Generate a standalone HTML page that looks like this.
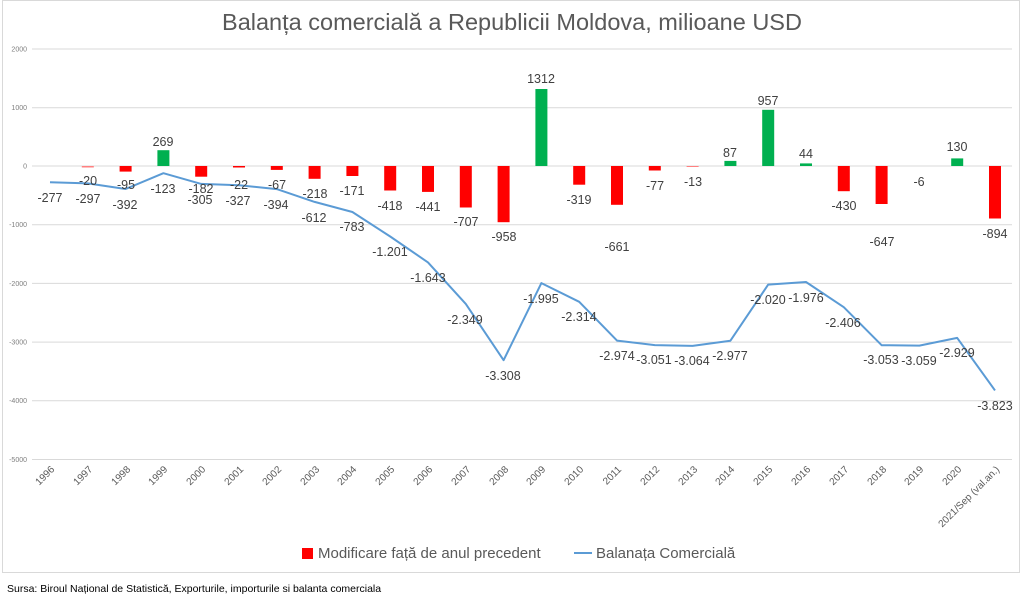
<!DOCTYPE html>
<html><head><meta charset="utf-8"><style>
body{margin:0;background:#fff;width:1023px;height:597px;overflow:hidden}
svg{font-family:"Liberation Sans",sans-serif}
.yl{font-size:7px;fill:#7f7f7f;text-anchor:end}
.xl{font-size:10px;fill:#595959;text-anchor:end}
.dl{font-size:12.5px;fill:#404040;text-anchor:middle}
</style></head><body>
<svg width="1023" height="597" xmlns="http://www.w3.org/2000/svg">
<rect x="2.5" y="0.5" width="1017" height="572" fill="#fff" stroke="#d9d9d9"/>
<text x="512" y="30" text-anchor="middle" font-size="23.5" fill="#595959">Balanța comercială a Republicii Moldova, milioane USD</text>
<g stroke="#d9d9d9" stroke-width="1">
<line x1="32" x2="1012" y1="49" y2="49"/><line x1="32" x2="1012" y1="107.7" y2="107.7"/>
<line x1="32" x2="1012" y1="166" y2="166"/><line x1="32" x2="1012" y1="224.7" y2="224.7"/>
<line x1="32" x2="1012" y1="283.4" y2="283.4"/><line x1="32" x2="1012" y1="342.1" y2="342.1"/>
<line x1="32" x2="1012" y1="400.8" y2="400.8"/><line x1="32" x2="1012" y1="459.5" y2="459.5"/>
</g>
<g class="yl">
<text x="27" y="51.5">2000</text><text x="27" y="110">1000</text><text x="27" y="168.5">0</text>
<text x="27" y="227">-1000</text><text x="27" y="286">-2000</text><text x="27" y="344.5">-3000</text>
<text x="27" y="403">-4000</text><text x="27" y="462">-5000</text>
</g>
<g fill="#ff0000">
<rect x="81.8" y="166" width="12" height="1.5" fill="#ff8080"/>
<rect x="119.6" y="166" width="12" height="5.6"/>
<rect x="195.2" y="166" width="12" height="10.7"/>
<rect x="233" y="166" width="12" height="1.5"/>
<rect x="270.8" y="166" width="12" height="3.9"/>
<rect x="308.6" y="166" width="12" height="12.8"/>
<rect x="346.4" y="166" width="12" height="10"/>
<rect x="384.2" y="166" width="12" height="24.5"/>
<rect x="422" y="166" width="12" height="25.9"/>
<rect x="459.8" y="166" width="12" height="41.5"/>
<rect x="497.6" y="166" width="12" height="56.2"/>
<rect x="573.2" y="166" width="12" height="18.7"/>
<rect x="611" y="166" width="12" height="38.8"/>
<rect x="648.8" y="166" width="12" height="4.5"/>
<rect x="686.6" y="166" width="12" height="1" fill="#ff8080"/>
<rect x="837.8" y="166" width="12" height="25.2"/>
<rect x="875.6" y="166" width="12" height="38"/>
<rect x="989" y="166" width="12" height="52.5"/>
</g>
<g fill="#00b050">
<rect x="157.4" y="150.2" width="12" height="15.8"/>
<rect x="535.4" y="89" width="12" height="77"/>
<rect x="724.4" y="160.9" width="12" height="5.1"/>
<rect x="762.2" y="109.8" width="12" height="56.2"/>
<rect x="800" y="163.4" width="12" height="2.6"/>
<rect x="951.2" y="158.4" width="12" height="7.6"/>
</g>
<polyline fill="none" stroke="#5b9bd5" stroke-width="2" stroke-linejoin="round" points="50,182.3 87.8,183.4 125.6,189 163.4,173.2 201.2,183.9 239,185.2 276.8,189.1 314.6,201.9 352.4,212 390.2,236.5 428,262.4 465.8,303.9 503.6,360.2 541.4,283.1 579.2,301.8 617,340.6 654.8,345.1 692.6,345.9 730.4,340.7 768.2,284.6 806,282 843.8,307.2 881.6,345.2 919.4,345.6 957.2,337.9 995,390.4"/>
<g class="dl">
<text x="88" y="185">-20</text><text x="126" y="189">-95</text><text x="163" y="146">269</text>
<text x="201" y="193">-182</text><text x="239" y="189">-22</text><text x="277" y="189">-67</text>
<text x="315" y="198">-218</text><text x="352" y="195">-171</text><text x="390" y="210">-418</text>
<text x="428" y="211">-441</text><text x="466" y="226">-707</text><text x="504" y="241">-958</text>
<text x="541" y="83">1312</text><text x="579" y="204">-319</text><text x="617" y="251">-661</text>
<text x="655" y="190">-77</text><text x="693" y="186">-13</text><text x="730" y="157">87</text>
<text x="768" y="105">957</text><text x="806" y="158">44</text><text x="844" y="210">-430</text>
<text x="882" y="246">-647</text><text x="919" y="186">-6</text><text x="957" y="151">130</text>
<text x="995" y="238">-894</text>
<text x="50" y="202">-277</text><text x="88" y="203">-297</text><text x="125" y="209">-392</text>
<text x="163" y="193">-123</text><text x="200" y="204">-305</text><text x="238" y="205">-327</text>
<text x="276" y="209">-394</text><text x="314" y="222">-612</text><text x="352" y="231">-783</text>
<text x="390" y="256">-1.201</text><text x="428" y="282">-1.643</text><text x="465" y="324">-2.349</text>
<text x="503" y="380">-3.308</text><text x="541" y="303">-1.995</text><text x="579" y="321">-2.314</text>
<text x="617" y="360">-2.974</text><text x="654" y="364">-3.051</text><text x="692" y="365">-3.064</text>
<text x="730" y="360">-2.977</text><text x="768" y="304">-2.020</text><text x="806" y="302">-1.976</text>
<text x="843" y="327">-2.406</text><text x="881" y="364">-3.053</text><text x="919" y="365">-3.059</text>
<text x="957" y="357">-2.929</text><text x="995" y="410">-3.823</text>
</g>
<g class="xl">
<text transform="translate(55,470) rotate(-45)">1996</text>
<text transform="translate(93,470) rotate(-45)">1997</text>
<text transform="translate(131,470) rotate(-45)">1998</text>
<text transform="translate(168,470) rotate(-45)">1999</text>
<text transform="translate(206,470) rotate(-45)">2000</text>
<text transform="translate(244,470) rotate(-45)">2001</text>
<text transform="translate(282,470) rotate(-45)">2002</text>
<text transform="translate(320,470) rotate(-45)">2003</text>
<text transform="translate(357,470) rotate(-45)">2004</text>
<text transform="translate(395,470) rotate(-45)">2005</text>
<text transform="translate(433,470) rotate(-45)">2006</text>
<text transform="translate(471,470) rotate(-45)">2007</text>
<text transform="translate(509,470) rotate(-45)">2008</text>
<text transform="translate(546,470) rotate(-45)">2009</text>
<text transform="translate(584,470) rotate(-45)">2010</text>
<text transform="translate(622,470) rotate(-45)">2011</text>
<text transform="translate(660,470) rotate(-45)">2012</text>
<text transform="translate(698,470) rotate(-45)">2013</text>
<text transform="translate(735,470) rotate(-45)">2014</text>
<text transform="translate(773,470) rotate(-45)">2015</text>
<text transform="translate(811,470) rotate(-45)">2016</text>
<text transform="translate(849,470) rotate(-45)">2017</text>
<text transform="translate(887,470) rotate(-45)">2018</text>
<text transform="translate(924,470) rotate(-45)">2019</text>
<text transform="translate(962,470) rotate(-45)">2020</text>
<text transform="translate(1000,470) rotate(-45)">2021/Sep (val.an.)</text>
</g>
<rect x="302" y="548" width="11" height="11" fill="#ff0000"/>
<text x="318" y="558" font-size="15" fill="#595959">Modificare față de anul precedent</text>
<line x1="574" x2="592" y1="553" y2="553" stroke="#5b9bd5" stroke-width="2"/>
<text x="596" y="558" font-size="15" fill="#595959">Balanața Comercială</text>
<text x="7" y="592" font-size="10.5" fill="#000">Sursa: Biroul Național de Statistică, Exporturile, importurile si balanta comerciala</text>
</svg>
</body></html>
